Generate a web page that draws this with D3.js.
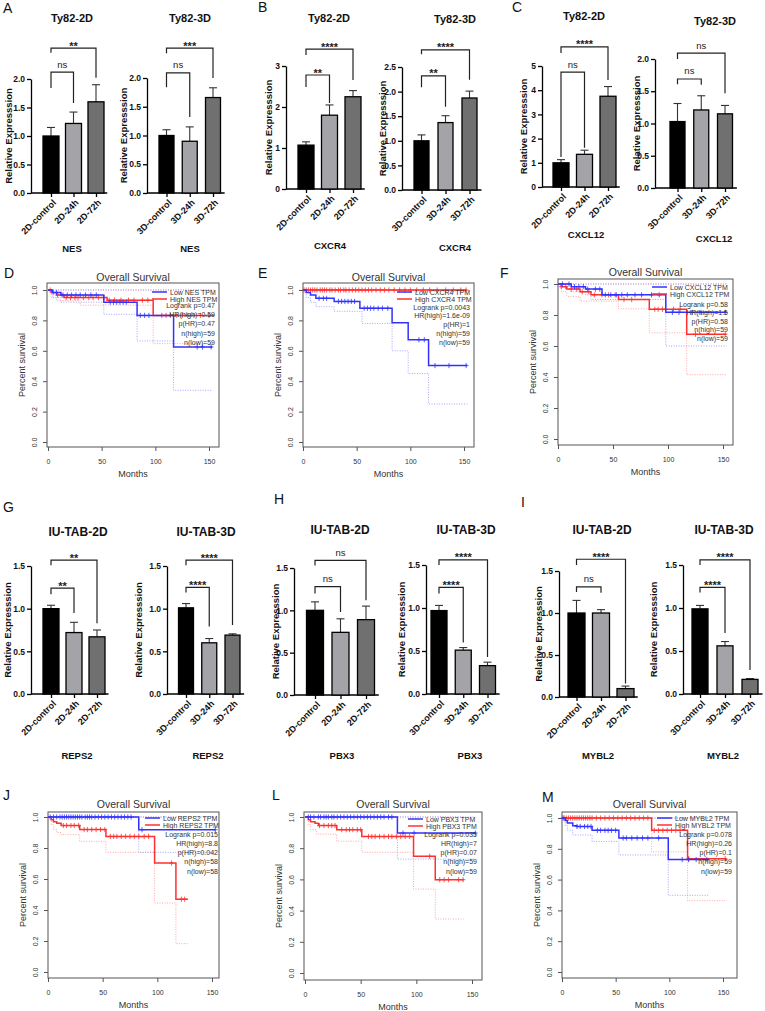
<!DOCTYPE html>
<html><head><meta charset="utf-8">
<script src="https://cdn.jsdelivr.net/npm/d3@7"></script>
<style>
body{margin:0;background:#fff}
svg{display:block}
text{font-family:Arial,"Liberation Sans",sans-serif}
</style>
</head><body>
<svg id="chart" width="765" height="1011"></svg>
<script>
// ---------------- DATA ----------------
const cats2D = ["2D-control","2D-24h","2D-72h"];
const cats3D = ["3D-control","3D-24h","3D-72h"];

const nes2D_mean = [1.00,1.22,1.60], nes2D_err = [0.15,0.20,0.30];
const nes3D_mean = [1.00,0.90,1.66], nes3D_err = [0.10,0.25,0.17];
const cxcr4_2D_mean = [1.07,1.80,2.25], cxcr4_2D_err = [0.08,0.25,0.15];
const cxcr4_3D_mean = [1.00,1.37,1.87], cxcr4_3D_err = [0.12,0.14,0.14];
const cxcl12_2D_mean = [1.00,1.35,3.75], cxcl12_2D_err = [0.13,0.17,0.40];
const cxcl12_3D_mean = [1.03,1.21,1.15], cxcl12_3D_err = [0.28,0.22,0.13];
const reps2_2D_mean = [1.00,0.72,0.67], reps2_2D_err = [0.04,0.12,0.08];
const reps2_3D_mean = [1.01,0.60,0.69], reps2_3D_err = [0.05,0.05,0.015];
const pbx3_2D_mean = [1.00,0.74,0.89], pbx3_2D_err = [0.10,0.16,0.16];
const pbx3_3D_mean = [0.97,0.51,0.33], pbx3_3D_err = [0.06,0.03,0.04];
const mybl2_2D_mean = [1.00,1.00,0.10], mybl2_2D_err = [0.15,0.04,0.03];
const mybl2_3D_mean = [0.99,0.56,0.17], mybl2_3D_err = [0.04,0.05,0.01];

const ticks2 = [0,0.5,1,1.5,2], ticks3 = [0,1,2,3], ticks25 = [0,0.5,1,1.5,2,2.5], ticks5 = [0,1,2,3,4,5], ticks15 = [0,0.5,1,1.5];

// significance brackets: [from, to, label, level, left leg end, right leg end] (value units)
const sigNes2D = [[0,1,"ns",2.12,1.84,1.58],[0,2,"**",2.54,2.46,2.02]];
const sigNes3D = [[0,1,"ns",2.09,1.84,1.32],[0,2,"***",2.52,2.43,2.0]];
const sigCxcr4_2D = [[0,1,"**",2.78,2.49,2.1],[0,2,"****",3.41,3.27,2.66]];
const sigCxcr4_3D = [[0,1,"**",2.32,2.09,1.69],[0,2,"****",2.85,2.76,2.24]];
const sigCxcl12_2D = [[0,1,"ns",4.75,1.24,1.62],[0,2,"****",5.79,5.54,4.42]];
const sigCxcl12_3D = [[0,1,"ns",1.69,1.61,1.6],[0,2,"ns",2.09,2.0,1.47]];
const sigReps2_2D = [[0,1,"**",1.24,1.17,0.95],[0,2,"**",1.57,1.51,0.83]];
const sigReps2_3D = [[0,1,"****",1.25,1.19,0.79],[0,2,"****",1.57,1.51,0.81]];
const sigPbx3_2D = [[0,1,"ns",1.28,1.2,0.98],[0,2,"ns",1.59,1.53,1.12]];
const sigPbx3_3D = [[0,1,"****",1.24,1.17,0.6],[0,2,"****",1.56,1.5,0.43]];
const sigMybl2_2D = [[0,1,"ns",1.31,1.25,1.24],[0,2,"****",1.64,1.57,0.16]];
const sigMybl2_3D = [[0,1,"****",1.24,1.18,0.71],[0,2,"****",1.56,1.5,0.28]];

// Kaplan-Meier step data [months, survival]
const nesLow  = [[0,1],[4,0.983],[12,0.967],[52,0.92],[83,0.833],[117,0.625],[153,0.625]];
const nesHigh = [[0,1],[3,0.983],[8,0.967],[15,0.95],[55,0.933],[98,0.833],[155,0.833]];
const nesLowCI  = [[0,1],[4,0.95],[12,0.92],[52,0.84],[83,0.665],[117,0.34],[153,0.34]];
const nesHighCI = [[0,1],[3,0.95],[8,0.93],[30,0.9],[98,0.647],[155,0.647]];
const nesLowCens  = [8,14,18,22,26,30,35,40,45,58,61,64,67,70,73,86,90,94,139,144,152];
const nesHighCens = [2,5,9,13,17,21,25,28,33,38,42,47,52,57,62,68,75,80,88,93,106,110,114,120,125,130,136,142,150];

const cxcr4Low  = [[0,1],[3,0.983],[7,0.967],[12,0.945],[29,0.925],[53,0.88],[83,0.785],[98,0.673],[117,0.503],[153,0.503]];
const cxcr4High = [[0,1],[152,1]];
const cxcr4LowCI  = [[0,1],[3,0.95],[7,0.92],[12,0.89],[29,0.86],[55,0.78],[83,0.6],[98,0.45],[117,0.25],[153,0.25]];
const cxcr4HighCI = [[0,1],[152,1]];
const cxcr4LowCens  = [15,19,22,33,36,39,42,45,48,57,60,63,66,70,74,79,108,113,123,136,152];
const cxcr4HighCens = [1,3,5,7,9,11,13,16,18,20,22,25,27,30,33,35,38,40,43,46,49,52,55,58,61,64,68,72,76,80,85,90,95,100,106,112,118,125,133,140,147,152];

const cxcl12Low  = [[0,1],[12,0.983],[25,0.967],[40,0.93],[98,0.817],[153,0.817]];
const cxcl12High = [[0,1],[3,0.983],[8,0.967],[20,0.95],[30,0.93],[55,0.9],[83,0.837],[117,0.676],[153,0.676]];
const cxcl12LowCI  = [[0,1],[12,0.95],[25,0.93],[30,0.9],[98,0.6],[153,0.6]];
const cxcl12HighCI = [[0,1],[3,0.95],[8,0.92],[20,0.89],[55,0.84],[83,0.685],[117,0.415],[153,0.415]];
const cxcl12LowCens  = [4,10,15,19,23,27,34,38,43,48,53,58,63,70,76,85,92,104,110,122,130,152];
const cxcl12HighCens = [3,7,12,17,22,28,33,40,46,52,60,67,88,91,95,105,111,125,152];

const reps2Low  = [[0,1],[83,0.918],[153,0.918]];
const reps2High = [[0,1],[3,0.983],[5,0.97],[8,0.96],[12,0.945],[29,0.919],[53,0.875],[97.5,0.703],[117,0.47],[128,0.47]];
const reps2LowCI  = [[0,1],[83,0.772],[153,0.772]];
const reps2HighCI = [[0,1],[3,0.95],[5,0.92],[8,0.9],[12,0.886],[29,0.843],[53,0.772],[97.5,0.445],[117,0.183],[128,0.183]];
const reps2LowCens  = [2,5,8,11,13,15,17,19,21,23,25,27,29,31,34,36,38,40,43,46,49,52,55,58,61,64,67,70,73,76,86,153];
const reps2HighCens = [14,17,21,24,28,33,36,40,44,48,52,57,60,63,67,71,75,79,83,88,92,113,122,125];

const pbx3Low  = [[0,1],[83,0.897],[153,0.897]];
const pbx3High = [[0,1],[3,0.983],[5,0.97],[9,0.96],[12,0.945],[28.5,0.919],[51,0.875],[97.5,0.748],[117,0.598],[142.5,0.598]];
const pbx3LowCI  = [[0,1],[83,0.73],[153,0.73]];
const pbx3HighCI = [[0,1],[3,0.95],[5,0.92],[10,0.89],[28.5,0.845],[51,0.774],[97.5,0.538],[117,0.346],[142.5,0.346]];
const pbx3LowCens  = [3,5,8,12,14,17,19,21,24,26,29,32,35,38,41,44,47,50,53,56,59,62,65,68,71,75,78,88,98,153];
const pbx3HighCens = [13,17,21,24,27,33,37,40,43,47,50,57,60,63,67,71,75,78,82,86,90,94,112,121,125,129,138,142];

const mybl2Low  = [[0,1],[3,0.983],[5,0.967],[10,0.95],[14,0.945],[28,0.92],[53,0.87],[99,0.73],[137,0.73]];
const mybl2High = [[0,1],[83.5,0.92],[117,0.736],[153,0.736]];
const mybl2LowCI  = [[0,1],[3,0.95],[5,0.92],[10,0.89],[28,0.848],[53,0.76],[99,0.498],[137,0.498]];
const mybl2HighCI = [[0,1],[83.5,0.78],[117,0.463],[153,0.463]];
const mybl2LowCens  = [1,14,17,21,24,27,33,36,40,43,46,50,57,60,65,70,75,80,90,112,118,125,135];
const mybl2HighCens = [2,4,6,8,10,12,14,16,18,20,22,24,26,28,32,36,40,44,48,52,56,60,64,68,72,76,80,86,90,94,98,102,106,110,118,152];

const kmXTicks = [0,50,100,150];
const kmYTicks = [0,0.2,0.4,0.6,0.8,1.0];

// ---------------- DRAWING ----------------
const svg = d3.select("#chart");
const barFill = ["#000000","#a4a4a8","#707070"];

function drawBar(L, cats, mean, err, sig, title, gene){
  const g = svg.append("g");
  const y = d3.scaleLinear().domain([0, L.yMax]).range([L.y0, L.yTop]);
  const x = d3.scalePoint().domain(cats).range([L.c0, L.c2]);
  const half = (L.c2 - L.c0)/4;

  // y axis
  const ya = g.append("g").attr("transform",`translate(${L.ax},0)`)
    .call(d3.axisLeft(y).tickValues(L.ticks).tickFormat(d3.format(L.fmt)).tickSize(4).tickSizeOuter(0).tickPadding(2));
  ya.select(".domain").attr("stroke","#000").attr("stroke-width",1.3);
  ya.selectAll(".tick line").attr("stroke","#000").attr("stroke-width",1.3);
  ya.selectAll(".tick text").attr("font-size",8.5).attr("font-weight","bold").attr("fill","#111").attr("font-family",null);

  // x axis
  const xa = g.append("g").attr("transform",`translate(0,${L.y0})`)
    .call(d3.axisBottom(x).tickSize(4).tickSizeOuter(0));
  xa.select(".domain").attr("d",`M${L.ax},0H${L.c2+half}`).attr("stroke","#000").attr("stroke-width",1.3);
  xa.selectAll(".tick line").attr("stroke","#000").attr("stroke-width",1.3);
  xa.selectAll(".tick text").attr("x",0).attr("y",0).attr("dy","0.35em")
    .attr("transform","translate(3,8) rotate(-45)").attr("text-anchor","end")
    .attr("font-size",9).attr("font-weight","bold").attr("fill","#111").attr("font-family",null);

  // error bars
  cats.forEach((c,i)=>{
    const cx = x(c);
    g.append("line").attr("x1",cx).attr("x2",cx).attr("y1",y(mean[i])).attr("y2",y(mean[i]+err[i]))
      .attr("stroke","#333").attr("stroke-width",1.1);
    g.append("line").attr("x1",cx-4).attr("x2",cx+4).attr("y1",y(mean[i]+err[i])).attr("y2",y(mean[i]+err[i]))
      .attr("stroke","#333").attr("stroke-width",1.1);
  });
  // bars
  g.selectAll("rect.bar").data(mean).join("rect").attr("class","bar")
    .attr("x",(d,i)=>x(cats[i])-L.bw/2).attr("width",L.bw)
    .attr("y",d=>y(d)).attr("height",d=>L.y0-y(d))
    .attr("fill",(d,i)=>barFill[i]).attr("stroke","#000").attr("stroke-width",1.3);

  // significance
  sig.forEach(([i,j,lab,lev,lb,rb])=>{
    const x1 = x(cats[i]), x2 = x(cats[j]);
    g.append("path").attr("d",`M${x1},${y(lb)}V${y(lev)}H${x2}V${y(rb)}`)
      .attr("fill","none").attr("stroke","#222").attr("stroke-width",1.2);
    const isNs = lab==="ns";
    g.append("text").attr("x",(x1+x2)/2).attr("y",y(lev)-(isNs?4.5:-1.5))
      .attr("text-anchor","middle").attr("font-size",isNs?9.5:11).attr("font-weight",isNs?"normal":"bold")
      .attr("fill","#222").text(lab);
  });

  // titles
  g.append("text").attr("x",L.tx).attr("y",L.ty).attr("text-anchor","middle")
    .attr("font-size",L.tfs||11).attr("font-weight","bold").attr("fill","#111").text(title);
  g.append("text").attr("x",L.gx).attr("y",L.gy).attr("text-anchor","middle")
    .attr("font-size",9.5).attr("font-weight","bold").attr("fill","#111").text(gene);
  g.append("text").attr("transform",`translate(${L.lx+3.5},${(L.y0+L.yTop)/2}) rotate(-90)`)
    .attr("text-anchor","middle").attr("font-size",9.5).attr("font-weight","bold").attr("fill","#111")
    .text("Relative Expresssion");
}

function stepVal(s, t){
  let v = s[0][1];
  for (const p of s){ if (p[0] <= t) v = p[1]; }
  return v;
}

function drawKM(L, low, high, lowCI, highCI, lowCens, highCens, names, stats){
  const g = svg.append("g");
  const x = d3.scaleLinear().domain([0,150]).range(L.xs);
  const y = d3.scaleLinear().domain([0,1]).range(L.ys);
  const grey = "#555";

  g.append("rect").attr("x",L.bx0).attr("y",L.by0).attr("width",L.bx1-L.bx0).attr("height",L.by1-L.by0)
    .attr("fill","none").attr("stroke",grey).attr("stroke-width",1);

  const xa = g.append("g").attr("transform",`translate(0,${L.by1})`)
    .call(d3.axisBottom(x).tickValues(kmXTicks).tickFormat(d3.format("d")).tickSize(4).tickSizeOuter(0));
  xa.select(".domain").remove();
  xa.selectAll(".tick line").attr("stroke",grey);
  xa.selectAll(".tick text").attr("y",17).attr("dy",0).attr("font-size",7).attr("fill","#333").attr("font-family",null);

  const ya = g.append("g").attr("transform",`translate(${L.bx0},0)`)
    .call(d3.axisLeft(y).tickValues(kmYTicks).tickFormat(d3.format(".1f")).tickSize(4).tickSizeOuter(0));
  ya.select(".domain").remove();
  ya.selectAll(".tick line").attr("stroke",grey);
  ya.selectAll(".tick text").attr("x",0).attr("y",0).attr("dy",0).attr("text-anchor","middle")
    .attr("transform","translate(-10,0) rotate(-90)").attr("font-size",7).attr("fill","#333").attr("font-family",null);

  const line = d3.line().x(d=>x(d[0])).y(d=>y(d[1])).curve(d3.curveStepAfter);
  const blue = "#3232ff", red = "#ff3030", lblue = "#9a9aff", lred = "#ff9a9a";
  const upper = s => [[0,1],[s[s.length-1][0],1]];

  [[highCI,lred],[upper(high),lred],[lowCI,lblue],[upper(low),lblue]].forEach(([s,c])=>{
    g.append("path").attr("d",line(s)).attr("fill","none").attr("stroke",c).attr("stroke-width",0.9)
      .attr("stroke-dasharray","1,1.5");
  });
  [[high,red,highCens],[low,blue,lowCens]].forEach(([s,c,cens])=>{
    g.append("path").attr("d",line(s)).attr("fill","none").attr("stroke",c).attr("stroke-width",1.5);
    g.selectAll(null).data(cens).join("path")
      .attr("transform",t=>`translate(${x(t)},${y(stepVal(s,t))})`)
      .attr("d","M-2.3,0H2.3M0,-2.6V2.6").attr("stroke",c).attr("stroke-width",0.8);
  });

  // title and labels
  const cx = (L.bx0+L.bx1)/2;
  g.append("text").attr("x",cx).attr("y",L.ty).attr("text-anchor","middle").attr("font-size",10.5)
    .attr("fill","#333").text("Overall Survival");
  g.append("text").attr("x",cx).attr("y",L.by1+30).attr("text-anchor","middle").attr("font-size",9)
    .attr("fill","#333").text("Months");
  g.append("text").attr("transform",`translate(${L.bx0-22},${(L.by0+L.by1)/2}) rotate(-90)`)
    .attr("text-anchor","middle").attr("font-size",9).attr("fill","#333").text("Percent survival");

  // legend
  [[blue,names[0]],[red,names[1]]].forEach(([c,n],i)=>{
    const ry = L.ly + i*7;
    g.append("line").attr("x1",L.lineX).attr("x2",L.lineX+15).attr("y1",ry).attr("y2",ry)
      .attr("stroke",c).attr("stroke-width",1.5);
    g.append("text").attr("x",L.lineX+18).attr("y",ry+2.5).attr("font-size",7).attr("fill","#333").text(n);
  });
  stats.forEach((s,i)=>{
    g.append("text").attr("x",L.rx).attr("y",L.sy+i*L.sg+2.5).attr("text-anchor","end")
      .attr("font-size",7).attr("fill","#333").text(s);
  });
}

// ---- bar panels ----
drawBar({ax:31,c0:51,c2:96,bw:16,y0:193,yTop:79,yMax:2,ticks:ticks2,fmt:".1f",tx:72,ty:22,gx:72,gy:252,lx:8},
  cats2D, nes2D_mean, nes2D_err, sigNes2D, "Ty82-2D", "NES");
drawBar({ax:147,c0:166.5,c2:213,bw:15,y0:193,yTop:78,yMax:2,ticks:ticks2,fmt:".1f",tx:190,ty:22,gx:190,gy:252,lx:123},
  cats3D, nes3D_mean, nes3D_err, sigNes3D, "Ty82-3D", "NES");
drawBar({ax:286,c0:306,c2:353,bw:16,y0:189,yTop:66,yMax:3,ticks:ticks3,fmt:"d",tx:329,ty:22,gx:330,gy:249,lx:268},
  cats2D, cxcr4_2D_mean, cxcr4_2D_err, sigCxcr4_2D, "Ty82-2D", "CXCR4");
drawBar({ax:402,c0:421.5,c2:469.5,bw:15,y0:190,yTop:67,yMax:2.5,ticks:ticks25,fmt:".1f",tx:455,ty:23,gx:455,gy:251,lx:382},
  cats3D, cxcr4_3D_mean, cxcr4_3D_err, sigCxcr4_3D, "Ty82-3D", "CXCR4");
drawBar({ax:542,c0:561,c2:608,bw:16,y0:187,yTop:66,yMax:5,ticks:ticks5,fmt:"d",tx:584,ty:20,gx:586,gy:238,lx:523},
  cats2D, cxcl12_2D_mean, cxcl12_2D_err, sigCxcl12_2D, "Ty82-2D", "CXCL12");
drawBar({ax:655,c0:677.5,c2:725,bw:15,y0:188,yTop:59,yMax:2,ticks:ticks2,fmt:".1f",tx:715,ty:25,gx:714,gy:242,lx:636},
  cats3D, cxcl12_3D_mean, cxcl12_3D_err, sigCxcl12_3D, "Ty82-3D", "CXCL12");

drawBar({ax:31,c0:51,c2:97,bw:16,y0:694,yTop:566,yMax:1.5,ticks:ticks15,fmt:".1f",tx:78,ty:536,gx:77,gy:759,lx:7,tfs:12},
  cats2D, reps2_2D_mean, reps2_2D_err, sigReps2_2D, "IU-TAB-2D", "REPS2");
drawBar({ax:167,c0:186,c2:232.5,bw:15,y0:694,yTop:566,yMax:1.5,ticks:ticks15,fmt:".1f",tx:206,ty:536,gx:208,gy:759,lx:138,tfs:12},
  cats3D, reps2_3D_mean, reps2_3D_err, sigReps2_3D, "IU-TAB-3D", "REPS2");
drawBar({ax:294,c0:315,c2:366,bw:17,y0:695,yTop:568,yMax:1.5,ticks:ticks15,fmt:".1f",tx:340,ty:534,gx:342,gy:759,lx:275,tfs:12},
  cats2D, pbx3_2D_mean, pbx3_2D_err, sigPbx3_2D, "IU-TAB-2D", "PBX3");
drawBar({ax:426,c0:439,c2:487.5,bw:16,y0:694,yTop:565,yMax:1.5,ticks:ticks15,fmt:".1f",tx:466,ty:534,gx:470,gy:759,lx:401,tfs:12},
  cats3D, pbx3_3D_mean, pbx3_3D_err, sigPbx3_3D, "IU-TAB-3D", "PBX3");
drawBar({ax:559,c0:576.5,c2:625.5,bw:17,y0:697,yTop:571,yMax:1.5,ticks:ticks15,fmt:".1f",tx:602,ty:534,gx:598,gy:759,lx:538,tfs:12},
  cats2D, mybl2_2D_mean, mybl2_2D_err, sigMybl2_2D, "IU-TAB-2D", "MYBL2");
drawBar({ax:683,c0:700,c2:750,bw:16,y0:694,yTop:565,yMax:1.5,ticks:ticks15,fmt:".1f",tx:724,ty:534,gx:723,gy:759,lx:653,tfs:12},
  cats3D, mybl2_3D_mean, mybl2_3D_err, sigMybl2_3D, "IU-TAB-3D", "MYBL2");

// ---- KM panels ----
drawKM({bx0:47,bx1:219,by0:283,by1:447,xs:[48,209],ys:[442,290],ty:281,lineX:152,ly:292,rx:215,sy:305.5,sg:9.2},
  nesLow, nesHigh, nesLowCI, nesHighCI, nesLowCens, nesHighCens, ["Low NES TPM","High NES TPM"],
  ["Logrank p=0.47","HR(high)=0.59","p(HR)=0.47","n(high)=59","n(low)=59"]);
drawKM({bx0:303,bx1:474,by0:283,by1:447,xs:[303,464],ys:[442,290],ty:281,lineX:397,ly:292,rx:470,sy:307,sg:8.8},
  cxcr4Low, cxcr4High, cxcr4LowCI, cxcr4HighCI, cxcr4LowCens, cxcr4HighCens, ["Low CXCR4 TPM","High CXCR4 TPM"],
  ["Logrank p=0.0043","HR(high)=1.6e-09","p(HR)=1","n(high)=59","n(low)=59"]);
drawKM({bx0:558,bx1:733,by0:279,by1:445,xs:[558,723],ys:[439,284],ty:276,lineX:652,ly:287,rx:728,sy:304,sg:8.5},
  cxcl12Low, cxcl12High, cxcl12LowCI, cxcl12HighCI, cxcl12LowCens, cxcl12HighCens, ["Low CXCL12 TPM","High CXCL12 TPM"],
  ["Logrank p=0.58","HR(high)=1.5","p(HR)=0.58","n(high)=59","n(low)=59"]);
drawKM({bx0:48,bx1:219,by0:812,by1:978,xs:[48,212],ys:[972,817],ty:808,lineX:145,ly:818,rx:218,sy:834,sg:9.3},
  reps2Low, reps2High, reps2LowCI, reps2HighCI, reps2LowCens, reps2HighCens, ["Low REPS2 TPM","High REPS2 TPM"],
  ["Logrank p=0.015","HR(high)=8.8","p(HR)=0.042","n(high)=58","n(low)=58"]);
drawKM({bx0:304,bx1:482,by0:812,by1:980,xs:[305,472],ys:[973,817],ty:808,lineX:408,ly:819,rx:477,sy:834,sg:9.3},
  pbx3Low, pbx3High, pbx3LowCI, pbx3HighCI, pbx3LowCens, pbx3HighCens, ["Low PBX3 TPM","High PBX3 TPM"],
  ["Logrank p=0.035","HR(high)=7","p(HR)=0.07","n(high)=59","n(low)=59"]);
drawKM({bx0:562,bx1:737,by0:812,by1:978,xs:[562,723],ys:[972,818],ty:808,lineX:657,ly:818,rx:732,sy:834,sg:9.3},
  mybl2Low, mybl2High, mybl2LowCI, mybl2HighCI, mybl2LowCens, mybl2HighCens, ["Low MYBL2 TPM","High MYBL2 TPM"],
  ["Logrank p=0.078","HR(high)=0.26","p(HR)=0.1","n(high)=59","n(low)=59"]);

// ---- panel letters ----
const letters = [["A",3,13],["B",258,12],["C",512,12],["D",4,278],["E",258,278],["F",500,278],
                 ["G",3,512],["H",274,504],["I",521,507],["J",3,800],["L",272,800],["M",542,802]];
svg.selectAll("text.letter").data(letters).join("text").attr("class","letter")
  .attr("x",d=>d[1]).attr("y",d=>d[2]).attr("font-size",14).attr("fill","#111").text(d=>d[0]);
</script>
</body></html>
